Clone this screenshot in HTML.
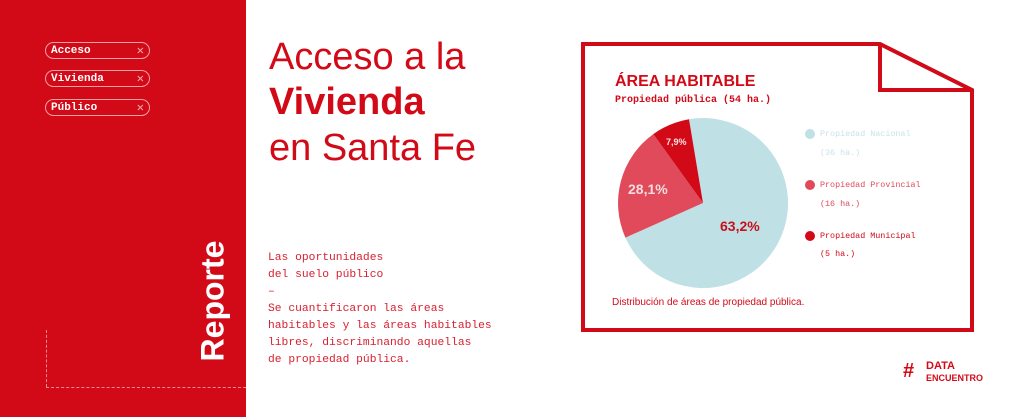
<!DOCTYPE html>
<html><head><meta charset="utf-8"><style>
body{margin:0;width:1024px;height:417px;background:#fff;position:relative;overflow:hidden;font-family:"Liberation Sans",sans-serif}
.abs{position:absolute;white-space:nowrap}
.pill{position:absolute;left:45px;width:98px;height:15px;border:1px solid #f4a0a6;border-radius:9px;color:#fff;font:bold 11px "Liberation Mono",monospace;padding-left:5px;box-sizing:content-box;display:flex;align-items:center}
.pill span{position:absolute;right:5px;top:0;height:15px;display:flex;align-items:center;font-weight:normal;color:#f6b0b5;font-size:12px}
.t{color:#d20a18;font-size:38px;left:269px}
.m{font:11.3px/17px "Liberation Mono",monospace;color:#d82030}
.lg{font:8.4px "Liberation Mono",monospace}
</style></head><body>
<div class="abs" style="left:0;top:0;width:246px;height:417px;background:#d20a18"></div>
<div class="pill" style="top:42px">Acceso<span>✕</span></div>
<div class="pill" style="top:70px">Vivienda<span>✕</span></div>
<div class="pill" style="top:99px">Público<span>✕</span></div>
<div class="abs" style="left:46px;top:330px;height:57px;border-left:1px dashed #f08890"></div>
<div class="abs" style="left:46px;top:387px;width:200px;border-top:1px dashed #f08890"></div>
<div class="abs" style="left:213px;top:301px;transform:translate(-50%,-50%) rotate(-90deg);color:#fff;font-weight:bold;font-size:32px">Reporte</div>

<div class="abs t" style="top:36px">Acceso a la</div>
<div class="abs t" style="top:81px;font-weight:bold">Vivienda</div>
<div class="abs t" style="top:127px">en Santa Fe</div>

<div class="abs m" style="left:268px;top:250px">Las oportunidades<br>del suelo público<br>–<br>Se cuantificaron las áreas<br>habitables y las áreas habitables<br>libres, discriminando aquellas<br>de propiedad pública.</div>

<svg class="abs" style="left:0;top:0" width="1024" height="417">
<path d="M583,44 H880 L972,90 V330 H583 Z" fill="none" stroke="#d20a18" stroke-width="4"/>
<path d="M880,44 V90 H972" fill="none" stroke="#d20a18" stroke-width="4"/>
<path d="M703,203 L689,119.2 A85,85 0 1 1 625.4,237.6 Z" fill="#bfe1e6"/>
<path d="M703,203 L625.4,237.6 A85,85 0 0 1 653.3,134.1 Z" fill="#e04a5a"/>
<path d="M703,203 L653.3,134.1 A85,85 0 0 1 689,119.2 Z" fill="#d20a18"/>
<text x="720" y="231" font-family="Liberation Sans" font-weight="bold" font-size="14" fill="#c8101c">63,2%</text>
<text x="628" y="194" font-family="Liberation Sans" font-weight="bold" font-size="14" fill="#f3dde0">28,1%</text>
<text x="666" y="145" font-family="Liberation Sans" font-weight="bold" font-size="9" fill="#fbe0e2">7,9%</text>
<circle cx="810" cy="134" r="5" fill="#bfe1e6"/>
<circle cx="810" cy="185" r="5" fill="#e04a5a"/>
<circle cx="810" cy="236" r="5" fill="#d20a18"/>
</svg>
<div class="abs" style="left:615px;top:73px;color:#d20a18;font-weight:bold;font-size:16px">ÁREA HABITABLE</div>
<div class="abs" style="left:615px;top:95px;color:#d20a18;font:bold 10px 'Liberation Mono',monospace">Propiedad pública (54 ha.)</div>
<div class="abs lg" style="left:820px;top:129px;color:#c8e4e8">Propiedad Nacional</div>
<div class="abs lg" style="left:820px;top:148px;color:#c8e4e8">(36 ha.)</div>
<div class="abs lg" style="left:820px;top:180px;color:#e04a5a">Propiedad Provincial</div>
<div class="abs lg" style="left:820px;top:199px;color:#e04a5a">(16 ha.)</div>
<div class="abs lg" style="left:820px;top:231px;color:#d20a18">Propiedad Municipal</div>
<div class="abs lg" style="left:820px;top:249px;color:#d20a18">(5 ha.)</div>
<div class="abs" style="left:612px;top:297px;color:#d20a18;font-size:10px">Distribución de áreas de propiedad pública.</div>

<div class="abs" style="left:903px;top:361px;color:#d20a18;font-weight:bold;font-size:20px;line-height:20px">#</div>
<div class="abs" style="left:926px;top:360px;color:#d20a18;font-weight:bold;font-size:11px;line-height:12px">DATA<br><span style="font-size:9px">ENCUENTRO</span></div>
</body></html>
